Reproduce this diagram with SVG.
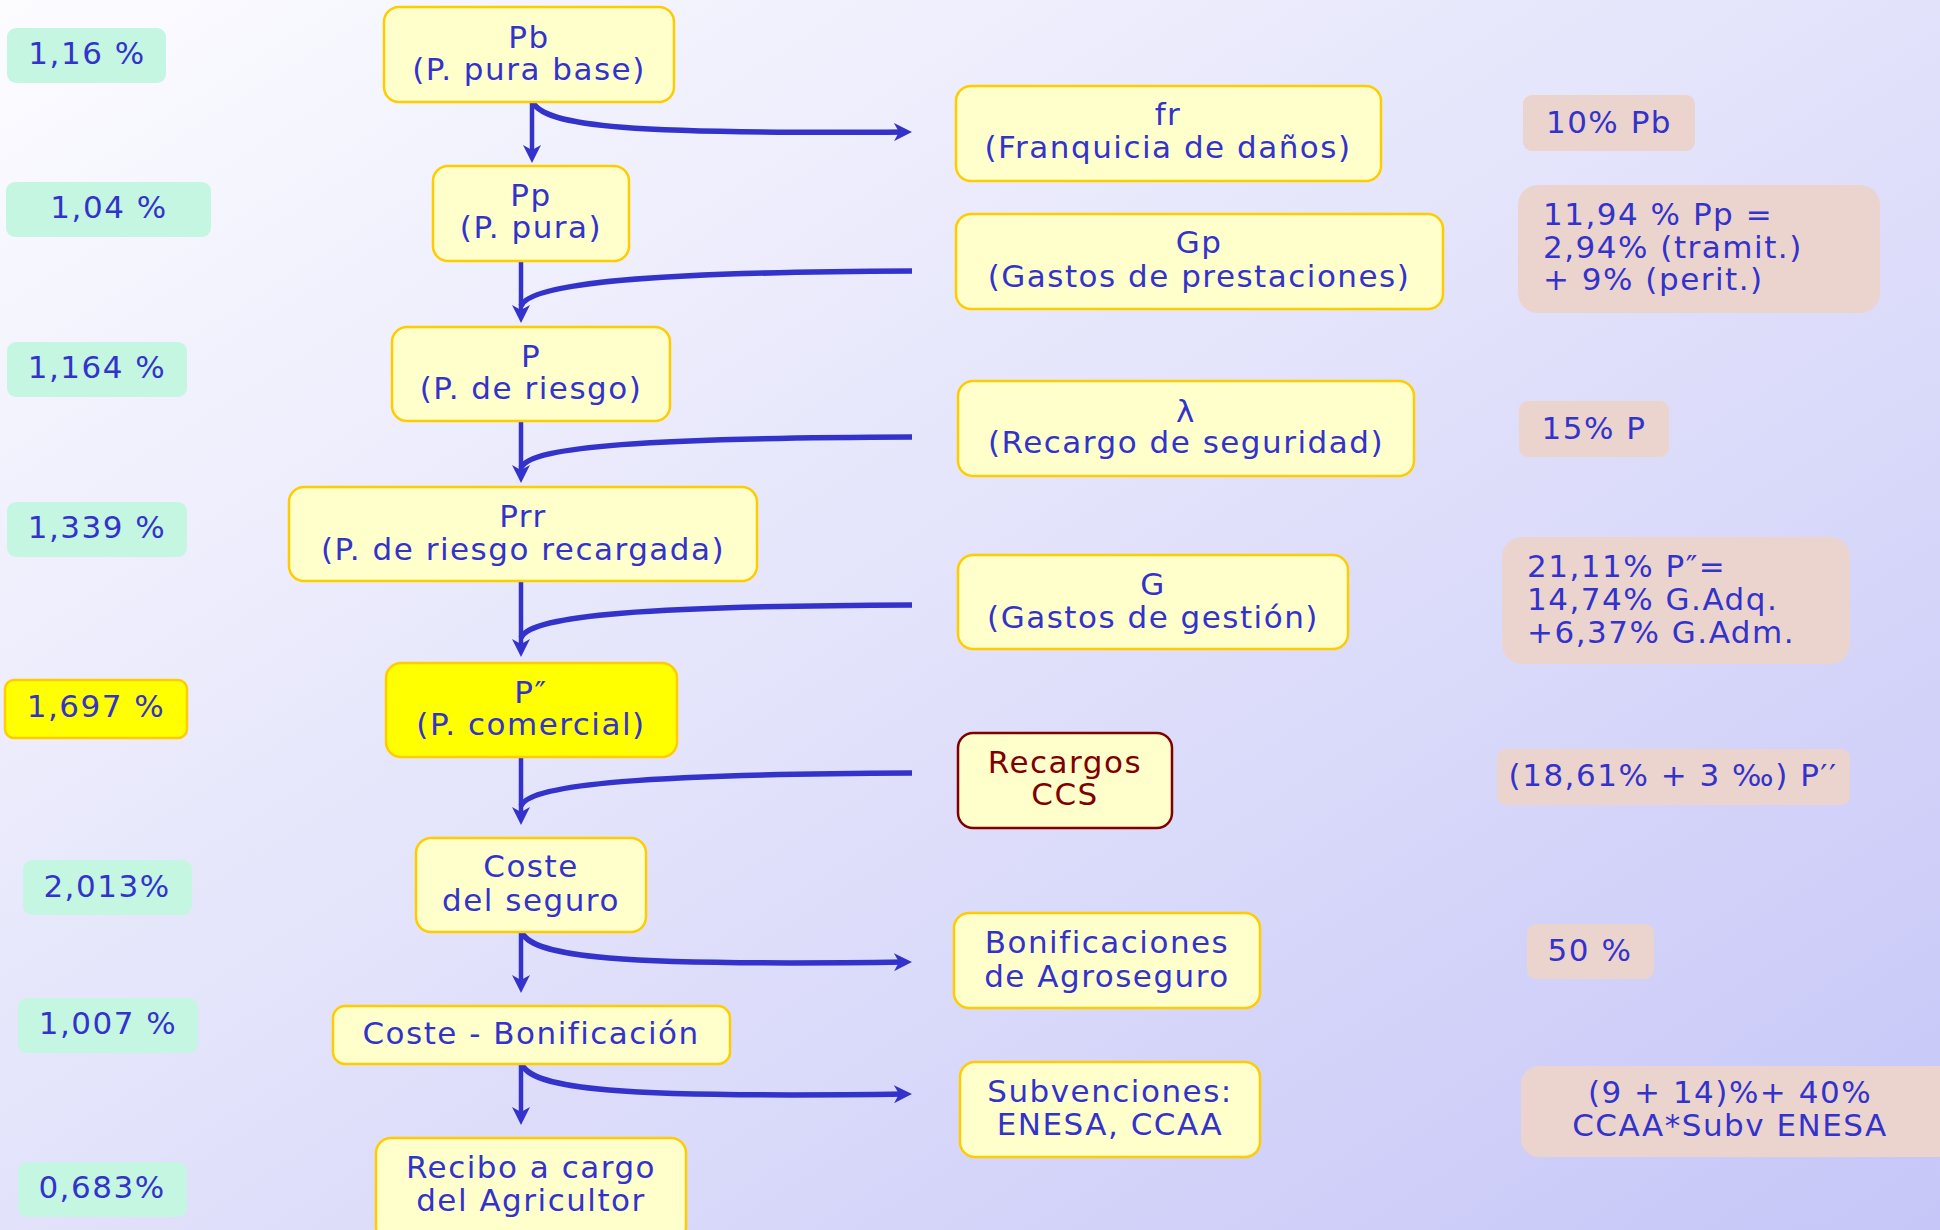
<svg xmlns="http://www.w3.org/2000/svg" width="1940" height="1230" viewBox="0 0 1940 1230">
<defs>
<linearGradient id="bg" x1="0" y1="0" x2="1" y2="1">
<stop offset="0" stop-color="#FCFCFF"/>
<stop offset="0.5" stop-color="#E2E2FB"/>
<stop offset="1" stop-color="#C6C6F8"/>
</linearGradient>
<marker id="ah" markerUnits="userSpaceOnUse" markerWidth="18" markerHeight="18" viewBox="0 0 18 18" refX="12" refY="9" orient="auto">
<path d="M0,0 L18,9 L0,18 L5,9 Z" fill="#3333CC"/>
</marker>
<style>
.t{font-family:"DejaVu Sans",Verdana,sans-serif;font-size:31px;fill:#3333CC;letter-spacing:1.5px;text-anchor:middle}
.l{text-anchor:start}
.red{fill:#800000}
.node{fill:#FFFFCC;stroke:#FFCC00;stroke-width:2.5}
.hot{fill:#FFFF00;stroke:#FFCC00;stroke-width:2.5}
.dark{fill:#FFFFCC;stroke:#800000;stroke-width:2.5}
.green{fill:#C4F6E2}
.pink{fill:#ECD4CE}
.v{stroke:#3333CC;stroke-width:4.5;fill:none}
.c{stroke:#3333CC;stroke-width:5.5;fill:none}
</style>
</defs>
<rect x="0" y="0" width="1940" height="1230" fill="url(#bg)"/>

<g id="left-values">
<g id="v1"><rect class="green" x="7" y="28" width="159" height="55" rx="9"/><text class="t" x="87" y="64">1,16 %</text></g>
<g id="v2"><rect class="green" x="6" y="182" width="205" height="55" rx="9"/><text class="t" x="109" y="218">1,04 %</text></g>
<g id="v3"><rect class="green" x="7" y="342" width="180" height="55" rx="9"/><text class="t" x="97" y="378">1,164 %</text></g>
<g id="v4"><rect class="green" x="7" y="502" width="180" height="55" rx="9"/><text class="t" x="97" y="538">1,339 %</text></g>
<g id="v5"><rect class="hot" x="5" y="680" width="182" height="58" rx="9"/><text class="t" x="96" y="717">1,697 %</text></g>
<g id="v6"><rect class="green" x="23" y="860" width="169" height="55" rx="9"/><text class="t" x="107" y="897">2,013%</text></g>
<g id="v7"><rect class="green" x="18" y="998" width="180" height="55" rx="9"/><text class="t" x="108" y="1034">1,007 %</text></g>
<g id="v8"><rect class="green" x="18" y="1162" width="169" height="55" rx="9"/><text class="t" x="102" y="1198">0,683%</text></g>
</g>

<g id="connectors">
<line class="v" x1="532" y1="102" x2="532" y2="157" marker-end="url(#ah)"/>
<line class="v" x1="521" y1="261" x2="521" y2="317" marker-end="url(#ah)"/>
<line class="v" x1="521" y1="421" x2="521" y2="477" marker-end="url(#ah)"/>
<line class="v" x1="521" y1="581" x2="521" y2="651" marker-end="url(#ah)"/>
<line class="v" x1="521" y1="757" x2="521" y2="819" marker-end="url(#ah)"/>
<line class="v" x1="521" y1="932" x2="521" y2="987" marker-end="url(#ah)"/>
<line class="v" x1="521" y1="1064" x2="521" y2="1119" marker-end="url(#ah)"/>
<path class="c" d="M532,100 C540,128 640,134 906,132" marker-end="url(#ah)"/>
<path class="c" d="M912,271 C650,272 530,283 521,306"/>
<path class="c" d="M912,437 C650,438 530,446 521,468"/>
<path class="c" d="M912,605 C650,606 530,615 521,638"/>
<path class="c" d="M912,773 C650,774 530,784 521,806"/>
<path class="c" d="M521,930 C528,958 620,966 906,962" marker-end="url(#ah)"/>
<path class="c" d="M521,1062 C528,1090 620,1098 906,1094" marker-end="url(#ah)"/>
</g>

<g id="Pb"><rect class="node" x="384" y="7" width="290" height="95" rx="15"/><text class="t" x="529" y="48">Pb</text><text class="t" x="529" y="80">(P. pura base)</text></g>
<g id="Pp"><rect class="node" x="433" y="166" width="196" height="95" rx="15"/><text class="t" x="531" y="206">Pp</text><text class="t" x="531" y="238">(P. pura)</text></g>
<g id="P"><rect class="node" x="392" y="327" width="278" height="94" rx="15"/><text class="t" x="531" y="367">P</text><text class="t" x="531" y="399">(P. de riesgo)</text></g>
<g id="Prr"><rect class="node" x="289" y="487" width="468" height="94" rx="15"/><text class="t" x="523" y="527">Prr</text><text class="t" x="523" y="560">(P. de riesgo recargada)</text></g>
<g id="Pcom"><rect class="hot" x="386" y="663" width="291" height="94" rx="15"/><text class="t" x="531" y="703">P″</text><text class="t" x="531" y="735">(P. comercial)</text></g>
<g id="Coste"><rect class="node" x="416" y="838" width="230" height="94" rx="15"/><text class="t" x="531" y="877">Coste</text><text class="t" x="531" y="911">del seguro</text></g>
<g id="CosteBonif"><rect class="node" x="333" y="1006" width="397" height="58" rx="12"/><text class="t" x="531" y="1044">Coste - Bonificación</text></g>
<g id="Recibo"><rect class="node" x="376" y="1138" width="310" height="104" rx="15"/><text class="t" x="531" y="1178">Recibo a cargo</text><text class="t" x="531" y="1211">del Agricultor</text></g>

<g id="fr"><rect class="node" x="956" y="86" width="425" height="95" rx="15"/><text class="t" x="1168" y="125">fr</text><text class="t" x="1168" y="158">(Franquicia de daños)</text></g>
<g id="Gp"><rect class="node" x="956" y="214" width="487" height="95" rx="15"/><text class="t" x="1199" y="253">Gp</text><text class="t" x="1199" y="287">(Gastos de prestaciones)</text></g>
<g id="lambda"><rect class="node" x="958" y="381" width="456" height="95" rx="15"/><text class="t" x="1186" y="422">λ</text><text class="t" x="1186" y="453">(Recargo de seguridad)</text></g>
<g id="G"><rect class="node" x="958" y="555" width="390" height="94" rx="15"/><text class="t" x="1153" y="595">G</text><text class="t" x="1153" y="628">(Gastos de gestión)</text></g>
<g id="CCS"><rect class="dark" x="958" y="733" width="214" height="95" rx="15"/><text class="t red" x="1065" y="773">Recargos</text><text class="t red" x="1065" y="805">CCS</text></g>
<g id="Bonif"><rect class="node" x="954" y="913" width="306" height="95" rx="15"/><text class="t" x="1107" y="953">Bonificaciones</text><text class="t" x="1107" y="987">de Agroseguro</text></g>
<g id="Subv"><rect class="node" x="960" y="1062" width="300" height="95" rx="15"/><text class="t" x="1110" y="1102">Subvenciones:</text><text class="t" x="1110" y="1135">ENESA, CCAA</text></g>

<g id="right-values">
<g id="r1"><rect class="pink" x="1523" y="95" width="172" height="56" rx="9"/><text class="t" x="1609" y="133">10% Pb</text></g>
<g id="r2"><rect class="pink" x="1518" y="185" width="362" height="128" rx="20"/><text class="t l" x="1543" y="225">11,94 % Pp =</text><text class="t l" x="1543" y="258">2,94% (tramit.)</text><text class="t l" x="1543" y="290">+ 9% (perit.)</text></g>
<g id="r3"><rect class="pink" x="1519" y="401" width="150" height="56" rx="9"/><text class="t" x="1594" y="439">15% P</text></g>
<g id="r4"><rect class="pink" x="1502" y="537" width="348" height="127" rx="20"/><text class="t l" x="1527" y="577">21,11% P″=</text><text class="t l" x="1527" y="610">14,74% G.Adq.</text><text class="t l" x="1527" y="643">+6,37% G.Adm.</text></g>
<g id="r5"><rect class="pink" x="1497" y="749" width="353" height="56" rx="9"/><text class="t" x="1673" y="786">(18,61% + 3 ‰) P′′</text></g>
<g id="r6"><rect class="pink" x="1527" y="924" width="127" height="55" rx="9"/><text class="t" x="1590" y="961">50 %</text></g>
<g id="r7"><rect class="pink" x="1521" y="1066" width="440" height="91" rx="18"/><text class="t" x="1730" y="1103">(9 + 14)%+ 40%</text><text class="t" x="1730" y="1136">CCAA*Subv ENESA</text></g>
</g>
</svg>
